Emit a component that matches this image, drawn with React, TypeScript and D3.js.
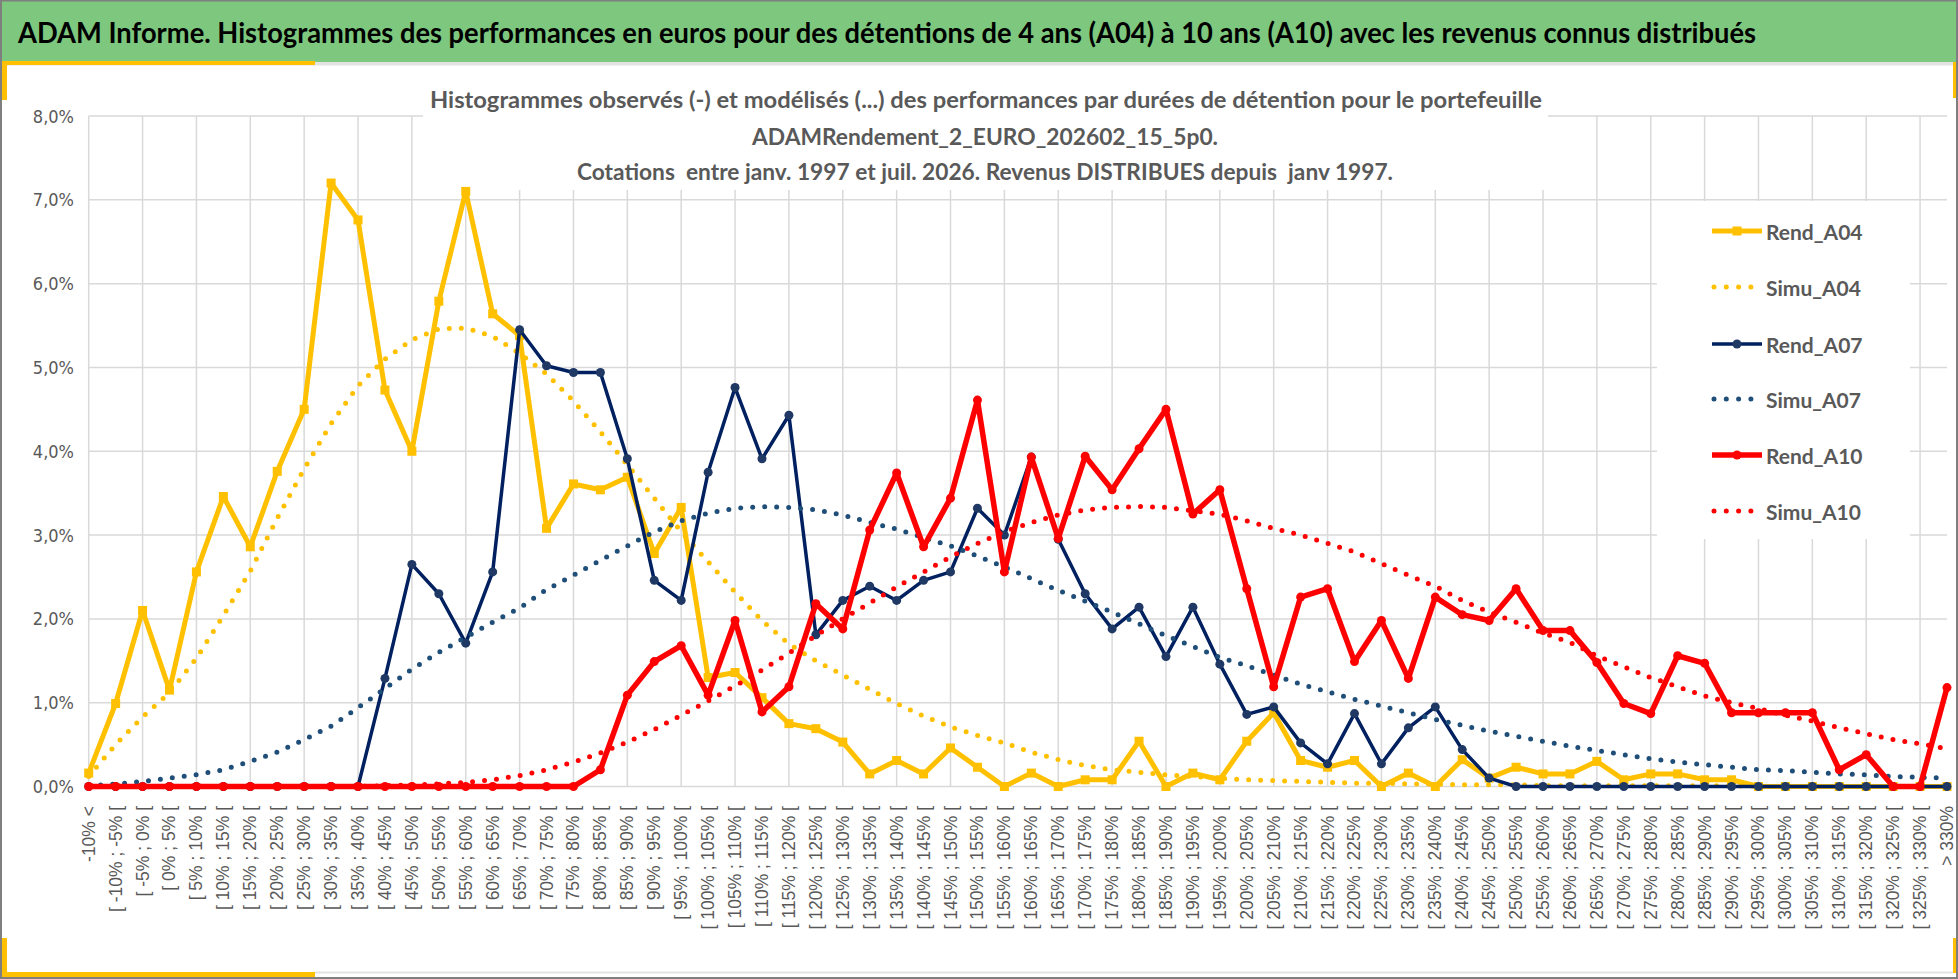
import React from "react"
import * as d3 from "d3"

// category labels (x axis)
const categories = [
  "-10% <", "[ -10% ; -5% [", "[ -5% ; 0% [", "[ 0% ; 5% [", "[ 5% ; 10% [",
  "[ 10% ; 15% [", "[ 15% ; 20% [", "[ 20% ; 25% [", "[ 25% ; 30% [", "[ 30% ; 35% [",
  "[ 35% ; 40% [", "[ 40% ; 45% [", "[ 45% ; 50% [", "[ 50% ; 55% [", "[ 55% ; 60% [",
  "[ 60% ; 65% [", "[ 65% ; 70% [", "[ 70% ; 75% [", "[ 75% ; 80% [", "[ 80% ; 85% [",
  "[ 85% ; 90% [", "[ 90% ; 95% [", "[ 95% ; 100% [", "[ 100% ; 105% [", "[ 105% ; 110% [",
  "[ 110% ; 115% [", "[ 115% ; 120% [", "[ 120% ; 125% [", "[ 125% ; 130% [", "[ 130% ; 135% [",
  "[ 135% ; 140% [", "[ 140% ; 145% [", "[ 145% ; 150% [", "[ 150% ; 155% [", "[ 155% ; 160% [",
  "[ 160% ; 165% [", "[ 165% ; 170% [", "[ 170% ; 175% [", "[ 175% ; 180% [", "[ 180% ; 185% [",
  "[ 185% ; 190% [", "[ 190% ; 195% [", "[ 195% ; 200% [", "[ 200% ; 205% [", "[ 205% ; 210% [",
  "[ 210% ; 215% [", "[ 215% ; 220% [", "[ 220% ; 225% [", "[ 225% ; 230% [", "[ 230% ; 235% [",
  "[ 235% ; 240% [", "[ 240% ; 245% [", "[ 245% ; 250% [", "[ 250% ; 255% [", "[ 255% ; 260% [",
  "[ 260% ; 265% [", "[ 265% ; 270% [", "[ 270% ; 275% [", "[ 275% ; 280% [", "[ 280% ; 285% [",
  "[ 285% ; 290% [", "[ 290% ; 295% [", "[ 295% ; 300% [", "[ 300% ; 305% [", "[ 305% ; 310% [",
  "[ 310% ; 315% [", "[ 315% ; 320% [", "[ 320% ; 325% [", "[ 325% ; 330% [", "> 330%",
]

// values in %
const rendA04 = [
  0.16, 0.99, 2.1, 1.15, 2.56, 3.46, 2.86, 3.76, 4.5, 7.2,
  6.76, 4.73, 4.0, 5.79, 7.1, 5.64, 5.38, 3.08, 3.61, 3.54,
  3.69, 2.78, 3.33, 1.3, 1.36, 1.06, 0.75, 0.69, 0.53, 0.15,
  0.31, 0.15, 0.46, 0.23, 0, 0.16, 0, 0.08, 0.08, 0.54,
  0, 0.16, 0.08, 0.54, 0.88, 0.31, 0.23, 0.31, 0, 0.16,
  0, 0.32, 0.1, 0.23, 0.15, 0.15, 0.3, 0.08, 0.15, 0.15,
  0.08, 0.08, 0, 0, 0, 0, 0, 0, 0, 0,
]
const simuA04 = [
  0.12, 0.5, 0.83, 1.12, 1.53, 2.04, 2.57, 3.2, 3.79, 4.33,
  4.78, 5.1, 5.33, 5.46, 5.47, 5.37, 5.17, 4.92, 4.6, 4.23,
  3.84, 3.44, 3.04, 2.68, 2.32, 1.98, 1.7, 1.5, 1.33, 1.16,
  0.99, 0.84, 0.71, 0.61, 0.52, 0.41, 0.32, 0.25, 0.2, 0.17,
  0.14, 0.12, 0.1, 0.08, 0.07, 0.06, 0.05, 0.04, 0.04, 0.03,
  0.03, 0.02, 0.02, 0.02, 0.01, 0.01, 0.01, 0.01, 0.01, 0.01,
  0.01, 0.01, 0, 0, 0, 0, 0, 0, 0, 0,
]
const rendA07 = [
  0, 0, 0, 0, 0, 0, 0, 0, 0, 0,
  0, 1.29, 2.65, 2.3, 1.71, 2.56, 5.45, 5.02, 4.94, 4.94,
  3.91, 2.46, 2.22, 3.75, 4.76, 3.91, 4.43, 1.81, 2.22, 2.39,
  2.22, 2.46, 2.56, 3.32, 3.0, 3.93, 2.95, 2.3, 1.88, 2.14,
  1.55, 2.14, 1.46, 0.86, 0.95, 0.52, 0.27, 0.87, 0.27, 0.7,
  0.95, 0.44, 0.1, 0, 0, 0, 0, 0, 0, 0,
  0, 0, 0, 0, 0, 0, 0, 0, 0, 0,
]
const simuA07 = [
  0.01, 0.03, 0.06, 0.1, 0.14, 0.2, 0.3, 0.41, 0.56, 0.72,
  0.94, 1.17, 1.4, 1.6, 1.78, 1.96, 2.13, 2.35, 2.52, 2.7,
  2.87, 3.04, 3.17, 3.26, 3.32, 3.34, 3.33, 3.3, 3.24, 3.15,
  3.07, 2.97, 2.87, 2.75, 2.62, 2.48, 2.34, 2.21, 2.08, 1.94,
  1.8, 1.67, 1.54, 1.44, 1.33, 1.22, 1.13, 1.04, 0.96, 0.88,
  0.8, 0.73, 0.66, 0.6, 0.54, 0.48, 0.43, 0.38, 0.33, 0.29,
  0.26, 0.23, 0.2, 0.19, 0.17, 0.15, 0.14, 0.12, 0.11, 0.1,
]
const rendA10 = [
  0, 0, 0, 0, 0, 0, 0, 0, 0, 0,
  0, 0, 0, 0, 0, 0, 0, 0, 0, 0.2,
  1.09, 1.49, 1.68, 1.09, 1.98, 0.89, 1.19, 2.18, 1.88, 3.06,
  3.74, 2.86, 3.44, 4.61, 2.56, 3.93, 2.96, 3.94, 3.54, 4.03,
  4.5, 3.25, 3.54, 2.36, 1.19, 2.26, 2.36, 1.49, 1.98, 1.29,
  2.26, 2.05, 1.98, 2.36, 1.86, 1.86, 1.48, 0.99, 0.87, 1.56,
  1.47, 0.88, 0.88, 0.88, 0.88, 0.2, 0.38, 0, 0, 1.18,
]
const simuA10 = [
  0, 0, 0, 0, 0, 0, 0, 0, 0, 0,
  0, 0.01, 0.02, 0.03, 0.05, 0.08, 0.13, 0.2, 0.29, 0.4,
  0.53, 0.68, 0.85, 1.02, 1.2, 1.39, 1.59, 1.8, 2.0, 2.19,
  2.38, 2.56, 2.74, 2.9, 3.04, 3.15, 3.24, 3.3, 3.33, 3.34,
  3.33, 3.29, 3.25, 3.17, 3.08, 3.0, 2.9, 2.8, 2.66, 2.52,
  2.39, 2.22, 2.08, 1.96, 1.83, 1.72, 1.56, 1.43, 1.3, 1.19,
  1.08, 1.0, 0.93, 0.85, 0.78, 0.7, 0.63, 0.56, 0.51, 0.45,
]

const seriesNames = ["Rend_A04", "Simu_A04", "Rend_A07", "Simu_A07", "Rend_A10", "Simu_A10"]
const seriesValues = [rendA04, simuA04, rendA07, simuA07, rendA10, simuA10]

const mainTitle =
  "ADAM Informe. Histogrammes des performances en euros pour des détentions de 4 ans (A04) à 10 ans (A10) avec les revenus connus distribués"
const chartTitle = [
  "Histogrammes observés (-) et modélisés (...) des performances par durées de détention pour le portefeuille",
  "ADAMRendement_2_EURO_202602_15_5p0.",
  "Cotations  entre janv. 1997 et juil. 2026. Revenus DISTRIBUES depuis  janv 1997.",
]

const W = 1958
const H = 979
const GOLD = "#FFC000"
const GRID = "#D9D9D9"
const TXT = "#595959"

type Style = {
  color: string
  width: number
  dotted: boolean
  marker: "square" | "circle" | null
  markerColor: string
  markerSize: number
}

const styles: Style[] = [
  { color: GOLD, width: 5, dotted: false, marker: "square", markerColor: GOLD, markerSize: 9 },
  { color: GOLD, width: 5, dotted: true, marker: null, markerColor: GOLD, markerSize: 0 },
  { color: "#002060", width: 3.5, dotted: false, marker: "circle", markerColor: "#1F3864", markerSize: 9 },
  { color: "#1F4E79", width: 5, dotted: true, marker: null, markerColor: "#1F4E79", markerSize: 0 },
  { color: "#FF0000", width: 5.5, dotted: false, marker: "circle", markerColor: "#FF0000", markerSize: 9 },
  { color: "#FF0000", width: 5, dotted: true, marker: null, markerColor: "#FF0000", markerSize: 0 },
]

const Marker = ({ kind, cx, cy, size, color }: { kind: string | null; cx: number; cy: number; size: number; color: string }) => {
  if (kind === "square") return <rect x={cx - size / 2} y={cy - size / 2} width={size} height={size} fill={color} />
  if (kind === "circle") return <circle cx={cx} cy={cy} r={size / 2} fill={color} />
  return null
}

export default function App() {
  const x = d3.scalePoint<string>().domain(categories).range([88.7, 1947])
  const y = d3.scaleLinear().domain([0, 8]).range([786.5, 116])
  const yTicks = y.ticks(8)
  const fmt = (v: number) => v.toFixed(1).replace(".", ",") + "%"

  const lineGen = d3
    .line<number>()
    .x((_, i) => x(categories[i]) as number)
    .y((d) => y(d))

  const legendY = [231, 287, 344, 399, 455, 511]

  return (
    <div>
      <style>{`body{margin:0}`}</style>
      <svg width={W} height={H} style={{ display: "block", fontFamily: "'Liberation Sans', Arial, sans-serif" }}>
        <rect x={0} y={0} width={W} height={H} fill="#fff" />

        {/* banner */}
        <rect x={0} y={0} width={W} height={62} fill="#7DC87E" />
        <line x1={0} y1={0.75} x2={W} y2={0.75} stroke="#7f7f7f" strokeWidth={1.5} />
        <text
          x={18}
          y={43}
          fontFamily="Lato, 'Open Sans', sans-serif"
          fontWeight={700}
          fontSize={29}
          fill="#000"
          textLength={1738}
          lengthAdjust="spacingAndGlyphs"
        >
          {mainTitle}
        </text>

        {/* frame */}
        <rect x={0} y={62} width={W} height={3.5} fill="#E3E3E3" />
        <rect x={0} y={61} width={315} height={4} fill={GOLD} />
        <rect x={0} y={61} width={7} height={39} fill={GOLD} />
        <rect x={0} y={938} width={7} height={41} fill={GOLD} />
        <rect x={0} y={972} width={315} height={5} fill={GOLD} />
        <rect x={1953} y={62} width={5} height={36} fill={GOLD} />
        <rect x={1953} y={938} width={5} height={35} fill={GOLD} />
        <line x1={315} y1={972.5} x2={1953} y2={972.5} stroke="#E3E3E3" strokeWidth={2} />
        <line x1={0} y1={978} x2={W} y2={978} stroke="#7f7f7f" strokeWidth={2} />
        <line x1={1} y1={0} x2={1} y2={H} stroke="#7f7f7f" strokeWidth={2} />
        <line x1={1957} y1={0} x2={1957} y2={H} stroke="#7f7f7f" strokeWidth={2} />

        {/* gridlines */}
        <g stroke={GRID} strokeWidth={1.5}>
          {yTicks.map((t) => (
            <line key={"h" + t} x1={88.7} x2={1947} y1={y(t)} y2={y(t)} />
          ))}
          {categories
            .filter((_, i) => i % 2 === 0)
            .map((c) => (
              <line key={"v" + c} x1={x(c)} x2={x(c)} y1={116} y2={786.5} />
            ))}
        </g>

        {/* title and legend boxes cover the grid */}
        <rect x={423} y={78} width={1125} height={112} fill="#fff" />
        <rect x={1657} y={201} width={253} height={338} fill="#fff" />

        {/* y axis labels */}
        <g fontFamily="'Liberation Sans Narrow', 'DejaVu Sans Condensed', sans-serif" fontSize={18} fill={TXT}>
          {yTicks.map((t) => (
            <text key={"yl" + t} x={74} y={y(t)} textAnchor="end" dominantBaseline="central">
              {fmt(t)}
            </text>
          ))}
        </g>

        {/* x axis labels */}
        <g fontSize={17.5} fill={TXT}>
          {categories.map((c) => (
            <text
              key={"xl" + c}
              transform={`translate(${x(c)},806) rotate(-90)`}
              textAnchor="end"
              dominantBaseline="central"
              style={{ whiteSpace: "pre" }}
            >
              {c}
            </text>
          ))}
        </g>

        {/* series */}
        {seriesValues.map((vals, si) => {
          const s = styles[si]
          return (
            <g key={seriesNames[si]}>
              <path
                d={lineGen(vals) as string}
                fill="none"
                stroke={s.color}
                strokeWidth={s.width}
                strokeLinejoin="round"
                strokeLinecap="round"
                strokeDasharray={s.dotted ? "0 12" : undefined}
              />
              {s.marker &&
                vals.map((v, i) => (
                  <Marker
                    key={i}
                    kind={s.marker}
                    cx={x(categories[i]) as number}
                    cy={y(v)}
                    size={s.markerSize}
                    color={s.markerColor}
                  />
                ))}
            </g>
          )
        })}

        {/* chart title */}
        <g fontFamily="Lato, 'Open Sans', sans-serif" fontWeight={700} fontSize={23} fill={TXT} textAnchor="middle">
          <text x={986} y={99} dominantBaseline="central" textLength={1112} lengthAdjust="spacingAndGlyphs">
            {chartTitle[0]}
          </text>
          <text x={985} y={136} dominantBaseline="central" textLength={466} lengthAdjust="spacingAndGlyphs">
            {chartTitle[1]}
          </text>
          <text
            x={985}
            y={171}
            dominantBaseline="central"
            textLength={816}
            lengthAdjust="spacingAndGlyphs"
            style={{ whiteSpace: "pre" }}
          >
            {chartTitle[2]}
          </text>
        </g>

        {/* legend */}
        <g fontFamily="Lato, 'Open Sans', sans-serif" fontWeight={700} fontSize={21} fill={TXT}>
          {seriesNames.map((n, i) => {
            const s = styles[i]
            const ly = legendY[i]
            return (
              <g key={"lg" + n}>
                {s.dotted ? (
                  <line
                    x1={1714}
                    x2={1751}
                    y1={ly}
                    y2={ly}
                    stroke={s.color}
                    strokeWidth={s.width}
                    strokeLinecap="round"
                    strokeDasharray="0 12.3"
                  />
                ) : (
                  <line x1={1712} x2={1762} y1={ly} y2={ly} stroke={s.color} strokeWidth={s.width} />
                )}
                {s.marker && (
                  <Marker kind={s.marker} cx={1737} cy={ly} size={s.markerSize} color={s.markerColor} />
                )}
                <text x={1766} y={ly} dominantBaseline="central">
                  {n}
                </text>
              </g>
            )
          })}
        </g>
      </svg>
    </div>
  )
}
